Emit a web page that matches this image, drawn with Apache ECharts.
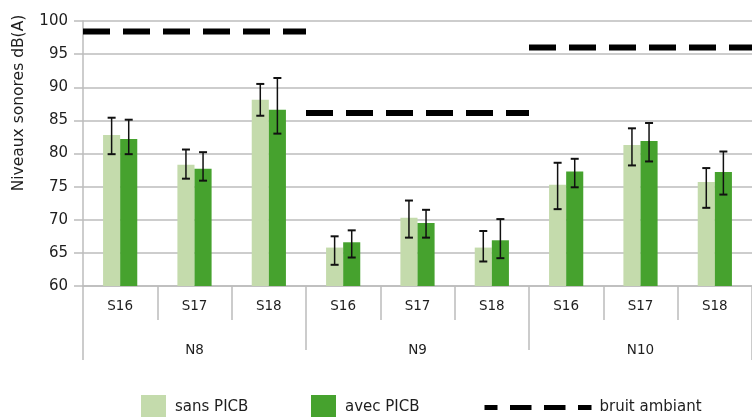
<!DOCTYPE html>
<html>
<head>
<meta charset="utf-8">
<script src="https://cdn.jsdelivr.net/npm/echarts@6/dist/echarts.min.js"></script>
<style>
  html, body { margin: 0; padding: 0; background: #fff; }
  #chart { width: 752px; height: 417px; }
</style>
</head>
<body>
<div id="chart"></div>
<script>
// Sampling points (S16–S18) repeated for each site (N8–N10)
const categories = ['S16', 'S17', 'S18', 'S16', 'S17', 'S18', 'S16', 'S17', 'S18'];
const groups = ['N8', 'N9', 'N10'];
const yTicks = { min: 60, max: 100, step: 5 };

// Mean sound levels, dB(A)
const sansPICB = [82.8, 78.3, 88.1, 65.8, 70.3, 65.8, 75.3, 81.3, 75.7];
const avecPICB = [82.2, 77.7, 86.6, 66.6, 69.5, 66.9, 77.3, 81.9, 77.2];

// Error bar bounds
const sansLow  = [79.9, 76.2, 85.7, 63.2, 67.3, 63.7, 71.6, 78.2, 71.8];
const sansHigh = [85.4, 80.6, 90.5, 67.5, 72.9, 68.3, 78.6, 83.8, 77.8];
const avecLow  = [79.9, 75.9, 83.0, 64.3, 67.3, 64.2, 74.9, 78.8, 73.8];
const avecHigh = [85.1, 80.2, 91.4, 68.4, 71.5, 70.1, 79.2, 84.6, 80.3];

// Ambient noise per site
const ambient = [98.4, 86.1, 96.0];

const FONT = 'DejaVu Sans';
const TEXT = '#1e1e1e';
const GRID = '#bcbcbc';
const LIGHT = '#c4dbac';
const DARK = '#46a22e';

const chart = echarts.init(document.getElementById('chart'), null, { renderer: 'canvas' });

function errorBars(low, high, side) {
  return {
    type: 'custom',
    xAxisIndex: 0,
    yAxisIndex: 0,
    z: 5,
    silent: true,
    data: low.map((l, i) => [i, l, high[i]]),
    encode: { x: 0, y: [1, 2] },
    renderItem(params, api) {
      const i = api.value(0);
      const lo = api.coord([i, api.value(1)]);
      const hi = api.coord([i, api.value(2)]);
      const band = api.size([1, 0])[0];
      const x = lo[0] + side * band * 0.115;
      const cap = 4;
      const stroke = { stroke: '#111', lineWidth: 1.5 };
      const capStroke = { stroke: '#111', lineWidth: 2 };
      return {
        type: 'group',
        children: [
          { type: 'line', shape: { x1: x, y1: hi[1], x2: x, y2: lo[1] }, style: stroke },
          { type: 'line', shape: { x1: x - cap, y1: hi[1], x2: x + cap, y2: hi[1] }, style: capStroke },
          { type: 'line', shape: { x1: x - cap, y1: lo[1], x2: x + cap, y2: lo[1] }, style: capStroke }
        ]
      };
    }
  };
}

const ambientSeries = ambient.map((lvl, g) => ({
  name: 'bruit ambiant',
  type: 'line',
  xAxisIndex: 3,
  yAxisIndex: 0,
  symbol: 'none',
  silent: true,
  z: 4,
  data: [[g * 3, lvl], [g * 3 + 3, lvl]],
  lineStyle: { color: '#000', width: 6, type: [27, 13], cap: 'butt' }
}));

const legendBase = {
  top: 395,
  padding: 0,
  itemHeight: 24,
  itemWidth: 25,
  icon: 'rect',
  textStyle: { fontFamily: FONT, fontSize: 15, color: TEXT, padding: [4, 0, 0, 4] }
};

chart.setOption({
  animation: false,
  backgroundColor: '#fff',
  textStyle: { fontFamily: FONT },
  grid: { left: 83, right: 0, top: 21, bottom: 131, containLabel: false },
  legend: [
    Object.assign({}, legendBase, { left: 141, data: ['sans PICB'] }),
    Object.assign({}, legendBase, { left: 311, data: ['avec PICB'] }),
    {
      left: 482,
      top: 398,
      padding: 0,
      itemWidth: 107,
      itemHeight: 24,
      data: ['bruit ambiant'],
      itemStyle: { color: 'rgba(0,0,0,0)', borderWidth: 0, opacity: 0 },
      lineStyle: { color: '#000', width: 5, type: [21.5, 12.5], dashOffset: 8.5, cap: 'butt' },
      textStyle: { fontFamily: FONT, fontSize: 15, color: TEXT, padding: [4, 0, 0, 3] }
    }
  ],
  graphic: [{
    type: 'text',
    x: 19,
    y: 103,
    rotation: Math.PI / 2,
    style: {
      text: 'Niveaux sonores dB(A)',
      font: '15.5px "DejaVu Sans"',
      fill: TEXT,
      textAlign: 'center',
      textVerticalAlign: 'middle'
    }
  }],
  xAxis: [
    {
      type: 'category',
      data: categories,
      position: 'bottom',
      axisLine: { show: true, lineStyle: { color: GRID, width: 1.5 } },
      axisTick: { show: true, interval: 0, length: 34, lineStyle: { color: GRID, width: 1.5 } },
      axisLabel: { interval: 0, margin: 13, fontFamily: FONT, fontSize: 13.5, color: TEXT },
      splitLine: { show: false }
    },
    {
      type: 'category',
      data: groups,
      position: 'bottom',
      axisLine: { show: false },
      axisTick: { show: true, interval: 0, length: 64, lineStyle: { color: GRID, width: 1.5 } },
      axisLabel: { interval: 0, margin: 57, fontFamily: FONT, fontSize: 13.5, color: TEXT },
      splitLine: { show: false }
    },
    {
      type: 'category',
      data: [''],
      position: 'bottom',
      axisLine: { show: false },
      axisTick: { show: true, length: 74, lineStyle: { color: GRID, width: 1.5 } },
      axisLabel: { show: false },
      splitLine: { show: false }
    },
    {
      type: 'value',
      min: 0,
      max: categories.length,
      position: 'bottom',
      show: false
    }
  ],
  yAxis: {
    type: 'value',
    min: yTicks.min,
    max: yTicks.max,
    interval: yTicks.step,
    axisLine: { show: true, lineStyle: { color: GRID, width: 1.5 } },
    axisTick: { show: true, length: 9, lineStyle: { color: GRID, width: 1.5 } },
    axisLabel: { margin: 15, fontFamily: FONT, fontSize: 15, color: TEXT },
    splitLine: { show: true, lineStyle: { color: GRID, width: 1.5 } }
  },
  series: [
    {
      name: 'sans PICB',
      type: 'bar',
      xAxisIndex: 0,
      yAxisIndex: 0,
      barWidth: '23%',
      barGap: '0%',
      itemStyle: { color: LIGHT },
      data: sansPICB
    },
    {
      name: 'avec PICB',
      type: 'bar',
      xAxisIndex: 0,
      yAxisIndex: 0,
      barWidth: '23%',
      barGap: '0%',
      itemStyle: { color: DARK },
      data: avecPICB
    },
    errorBars(sansLow, sansHigh, -1),
    errorBars(avecLow, avecHigh, 1)
  ].concat(ambientSeries)
});
</script>
</body>
</html>
